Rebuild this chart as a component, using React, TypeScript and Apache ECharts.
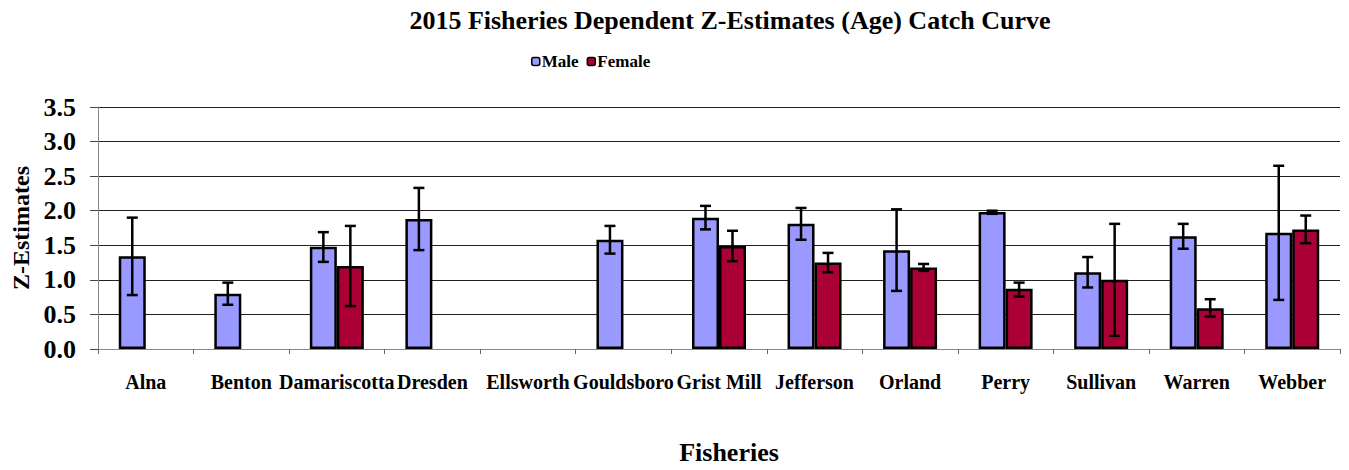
import React, { useEffect, useRef } from "react";
import * as echarts from "echarts";

const categories = ["Alna", "Benton", "Damariscotta", "Dresden", "Ellsworth", "Gouldsboro", "Grist Mill", "Jefferson", "Orland", "Perry", "Sullivan", "Warren", "Webber"];
const maleValues = [1.34, 0.8, 1.48, 1.88, null, 1.58, 1.9, 1.81, 1.43, 1.98, 1.11, 1.63, 1.68];
const maleLow = [0.78, 0.64, 1.26, 1.43, null, 1.38, 1.73, 1.58, 0.84, 1.955, 0.89, 1.45, 0.71];
const maleHigh = [1.9, 0.96, 1.69, 2.33, null, 1.78, 2.07, 2.04, 2.02, 2.0, 1.33, 1.81, 2.65];
const femaleValues = [null, null, 1.2, null, null, null, 1.49, 1.25, 1.18, 0.87, 1.0, 0.59, 1.73];
const femaleLow = [null, null, 0.62, null, null, null, 1.27, 1.11, 1.13, 0.76, 0.19, 0.47, 1.53];
const femaleHigh = [null, null, 1.78, null, null, null, 1.71, 1.39, 1.23, 0.96, 1.81, 0.72, 1.93];
const yTicks = ["0.0", "0.5", "1.0", "1.5", "2.0", "2.5", "3.0", "3.5"];

const BAR_W = 27;
const FONT = "'Liberation Serif', 'Times New Roman', serif";

function errData(low: (number | null)[], high: (number | null)[]) {
  const out: any[] = [];
  low.forEach((l, i) => {
    const h = high[i];
    if (l != null && h != null) out.push([i, l, h]);
  });
  return out;
}

function makeRender(offset: number) {
  return (params: any, api: any) => {
    const idx = api.value(0);
    const lo = api.coord([idx, api.value(1)]);
    const hi = api.coord([idx, api.value(2)]);
    const x = lo[0] + offset;
    const cap = 5.5;
    const style = { stroke: "#000", lineWidth: 2.5 };
    return {
      type: "group",
      children: [
        { type: "line", shape: { x1: x, y1: lo[1], x2: x, y2: hi[1] }, style },
        { type: "line", shape: { x1: x - cap, y1: lo[1], x2: x + cap, y2: lo[1] }, style },
        { type: "line", shape: { x1: x - cap, y1: hi[1], x2: x + cap, y2: hi[1] }, style },
      ],
    };
  };
}

export default function App() {
  const ref = useRef<HTMLDivElement>(null);
  useEffect(() => {
    if (!ref.current) return;
    const chart = echarts.init(ref.current, null, { renderer: "svg" });
    chart.setOption({
      animation: false,
      backgroundColor: "#fff",
      textStyle: { fontFamily: FONT },
      title: {
        text: "2015 Fisheries Dependent Z-Estimates (Age) Catch Curve",
        left: 725,
        top: 2,
        textAlign: "center",
        textStyle: { fontFamily: FONT, fontWeight: "bold", fontSize: 26, color: "#000" },
      },
      legend: {
        data: [
          { name: "Male", itemStyle: { color: "#9999FF", borderColor: "#000", borderWidth: 1.5 } },
          { name: "Female", itemStyle: { color: "#AA0036", borderColor: "#000", borderWidth: 1.5 } },
        ],
        left: 526,
        top: 48,
        itemWidth: 8,
        itemHeight: 8,
        itemGap: 8,
        textStyle: { fontFamily: FONT, fontWeight: "bold", fontSize: 17, color: "#000", padding: [0, 0, 0, -3] },
      },
      grid: { left: 98, right: 9, top: 107, height: 243, containLabel: false },
      xAxis: {
        type: "category",
        data: categories,
        name: "Fisheries",
        nameLocation: "middle",
        nameGap: 90,
        nameTextStyle: { fontFamily: FONT, fontWeight: "bold", fontSize: 26, color: "#000", padding: [0, 0, 0, 20] },
        axisLine: { lineStyle: { color: "#888", width: 1 } },
        axisTick: { show: true, length: 5, lineStyle: { color: "#666" } },
        axisLabel: { interval: 0, margin: 23, fontFamily: FONT, fontWeight: "bold", fontSize: 20, color: "#000" },
      },
      yAxis: {
        type: "value",
        min: 0,
        max: 3.5,
        interval: 0.5,
        name: "Z-Estimates",
        nameLocation: "middle",
        nameGap: 64,
        nameTextStyle: { fontFamily: FONT, fontWeight: "bold", fontSize: 24, color: "#000" },
        axisLine: { show: true, lineStyle: { color: "#888" } },
        axisTick: { show: true, length: 8, lineStyle: { color: "#444" } },
        axisLabel: {
          margin: 22,
          fontFamily: FONT,
          fontWeight: "bold",
          fontSize: 26,
          color: "#000",
          formatter: (v: number) => yTicks[Math.round(v / 0.5)] ?? v.toFixed(1),
        },
        splitLine: { lineStyle: { color: "#222", width: 1 } },
      },
      series: [
        {
          name: "Male",
          type: "bar",
          data: maleValues,
          barWidth: BAR_W,
          barGap: "0%",
          itemStyle: { color: "#9999FF", borderColor: "#000", borderWidth: 2.5 },
        },
        {
          name: "Female",
          type: "bar",
          data: femaleValues,
          barWidth: BAR_W,
          barGap: "0%",
          itemStyle: { color: "#AA0036", borderColor: "#000", borderWidth: 2.5 },
        },
        {
          type: "custom",
          renderItem: makeRender(-BAR_W / 2),
          data: errData(maleLow, maleHigh),
          encode: { x: 0, y: [1, 2] },
          z: 10,
        },
        {
          type: "custom",
          renderItem: makeRender(BAR_W / 2),
          data: errData(femaleLow, femaleHigh),
          encode: { x: 0, y: [1, 2] },
          z: 10,
        },
      ],
    });
    return () => chart.dispose();
  }, []);
  return <div ref={ref} style={{ position: "absolute", left: 0, top: 0, width: 1349, height: 470 }} />;
}
